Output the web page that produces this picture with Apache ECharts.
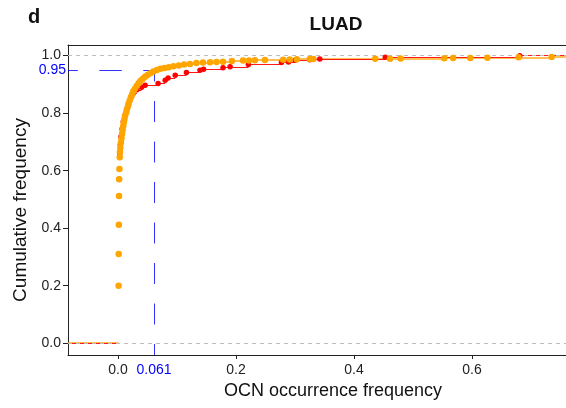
<!DOCTYPE html>
<html><head><meta charset="utf-8">
<script src="https://cdn.jsdelivr.net/npm/echarts@6.0.0/dist/echarts.min.js"></script>
<style>html,body{margin:0;padding:0;background:#fff}#c{width:566px;height:408px}</style>
</head><body><div id="c"></div>
<script>
const PANEL = 'd';
const TITLE = 'LUAD';
const X_NAME = 'OCN occurrence frequency';
const Y_NAME = 'Cumulative frequency';
const X_TICKS = [0, 0.2, 0.4, 0.6];
const Y_TICKS = [0, 0.2, 0.4, 0.6, 0.8, 1.0];
const REF_LINES_Y = [0, 1];
const THRESH_Y = 0.95;
const THRESH_X = 0.061;
const X_RANGE = [-0.0847, 0.7593];
const Y_RANGE = [-0.041, 1.037];

const ORANGE_X = [0.001,0.0012,0.0015,0.0018,0.002,0.0025,0.003,0.0033,0.004,0.005,0.006,0.007,0.008,0.009,0.010,0.011,0.012,0.014,0.015,0.017,0.018,0.020,0.022,0.024,0.026,0.029,0.032,0.035,0.038,0.042,0.046,0.050,0.055,0.060,0.066,0.072,0.079,0.086,0.094,0.103,0.112,0.122,0.133,0.144,0.156,0.167,0.178,0.193,0.212,0.222,0.232,0.249,0.280,0.291,0.303,0.325,0.331,0.436,0.461,0.479,0.553,0.568,0.597,0.626,0.679,0.735];
const ORANGE_Y = [0.200,0.310,0.412,0.512,0.570,0.606,0.647,0.665,0.680,0.698,0.713,0.728,0.742,0.756,0.768,0.780,0.791,0.802,0.813,0.824,0.834,0.845,0.856,0.866,0.876,0.886,0.895,0.904,0.912,0.920,0.927,0.933,0.939,0.945,0.950,0.954,0.957,0.960,0.963,0.966,0.969,0.971,0.974,0.976,0.977,0.978,0.979,0.981,0.983,0.9835,0.984,0.985,0.986,0.987,0.9875,0.988,0.9885,0.989,0.9895,0.990,0.991,0.9915,0.992,0.993,0.994,0.995];

const RED_X = [0.002,0.003,0.004,0.005,0.007,0.009,0.012,0.016,0.018,0.020,0.023,0.026,0.032,0.040,0.046,0.068,0.080,0.085,0.097,0.116,0.139,0.145,0.178,0.190,0.221,0.277,0.289,0.300,0.325,0.342,0.453,0.681];
const RED_Y = [0.570,0.658,0.690,0.718,0.745,0.770,0.794,0.817,0.832,0.846,0.858,0.869,0.881,0.890,0.897,0.903,0.914,0.922,0.932,0.941,0.949,0.953,0.958,0.961,0.969,0.976,0.978,0.984,0.986,0.988,0.994,1.000];

const FONT = 'Liberation Sans, Arial, sans-serif';
const BLUE = '#0000ff';

function stepSegments(xs, ys) {
  const segs = [{ coords: [[X_RANGE[0], 0], [xs[0], 0]] }];
  for (let i = 0; i < xs.length; i++) {
    const xe = i + 1 < xs.length ? xs[i + 1] : X_RANGE[1];
    segs.push({ coords: [[xs[i], ys[i]], [xe, ys[i]]] });
  }
  return segs;
}
function points(xs, ys) { return xs.map((x, i) => [x, ys[i]]); }

const chart = echarts.init(document.getElementById('c'), null, { renderer: 'canvas' });
const hiddenAxis = {
  type: 'value', axisTick: { show: false }, splitLine: { show: false }
};
chart.setOption({
  animation: false,
  backgroundColor: '#fff',
  textStyle: { fontFamily: FONT },
  title: [
    { text: PANEL, left: 23, top: 2, textStyle: { fontFamily: FONT, fontWeight: 'bold', fontSize: 20, color: '#111' } },
    { text: TITLE, left: 331, top: 10, textAlign: 'center', textStyle: { fontFamily: FONT, fontWeight: 'bold', fontSize: 19, color: '#111' } }
  ],
  grid: { left: 68, top: 45, width: 498, height: 310, show: false, containLabel: false },
  xAxis: [
    {
      type: 'value', min: X_RANGE[0], max: X_RANGE[1], position: 'bottom',
      splitLine: { show: false },
      axisLine: { show: true, onZero: false, lineStyle: { color: '#222', width: 1 } },
      name: X_NAME, nameLocation: 'middle', nameGap: 27,
      nameTextStyle: { fontFamily: FONT, fontSize: 18, color: '#111', padding: [0, 0, 0, 32] },
      axisTick: { show: true, length: 4, customValues: X_TICKS, lineStyle: { color: '#222' } },
      axisLabel: { customValues: X_TICKS, formatter: v => v.toFixed(1), fontFamily: FONT, fontSize: 14, color: '#222', margin: 8 }
    },
    Object.assign({}, hiddenAxis, {
      min: X_RANGE[0], max: X_RANGE[1], position: 'bottom',
      axisLine: { show: false, onZero: false },
      axisLabel: { customValues: [THRESH_X], formatter: v => String(v), fontFamily: FONT, fontSize: 14, color: BLUE, margin: 8 }
    }),
    Object.assign({}, hiddenAxis, {
      min: X_RANGE[0], max: X_RANGE[1], position: 'top',
      axisLine: { show: true, onZero: false, lineStyle: { color: '#222', width: 1 } },
      axisLabel: { show: false }
    })
  ],
  yAxis: [
    {
      type: 'value', min: Y_RANGE[0], max: Y_RANGE[1], position: 'left',
      splitLine: { show: false },
      axisLine: { show: true, onZero: false, lineStyle: { color: '#222', width: 1 } },
      name: Y_NAME, nameLocation: 'middle', nameGap: 36, nameRotate: 90,
      nameTextStyle: { fontFamily: FONT, fontSize: 19, color: '#111', padding: [0, 20, 0, 0] },
      axisTick: { show: true, length: 5, customValues: Y_TICKS, lineStyle: { color: '#222' } },
      axisLabel: { customValues: Y_TICKS, formatter: v => v.toFixed(1), fontFamily: FONT, fontSize: 14, color: '#222', margin: 7 }
    },
    Object.assign({}, hiddenAxis, {
      min: Y_RANGE[0], max: Y_RANGE[1], position: 'left',
      axisLine: { show: false, onZero: false },
      axisLabel: { customValues: [THRESH_Y], formatter: v => String(v), fontFamily: FONT, fontSize: 14, color: BLUE, margin: 2 }
    })
  ],
  series: [
    { type: 'lines', coordinateSystem: 'cartesian2d', clip: true, silent: true, polyline: false,
      data: stepSegments(ORANGE_X, ORANGE_Y),
      lineStyle: { color: 'rgba(255,170,30,0.75)', width: 2, opacity: 1 } },
    { type: 'lines', coordinateSystem: 'cartesian2d', clip: true, silent: true, polyline: false,
      data: stepSegments(RED_X, RED_Y),
      lineStyle: { color: '#ff1a1a', width: 1, opacity: 1 } },
    { type: 'scatter', data: points(RED_X, RED_Y), symbol: 'circle', symbolSize: 5.5, clip: true, silent: true,
      itemStyle: { color: '#ff0000', opacity: 1 } },
    { type: 'scatter', data: points(ORANGE_X, ORANGE_Y), symbol: 'circle', symbolSize: 6.5, clip: true, silent: true,
      itemStyle: { color: '#ffa500', opacity: 1 } },
    { type: 'lines', coordinateSystem: 'cartesian2d', clip: true, silent: true, polyline: false,
      data: REF_LINES_Y.map(y => ({ coords: [[X_RANGE[0], y], [X_RANGE[1], y]] })),
      lineStyle: { color: '#bdbdbd', width: 1, type: [4, 4], opacity: 1 } },
    { type: 'lines', coordinateSystem: 'cartesian2d', clip: true, silent: true, polyline: false,
      data: [{ coords: [[X_RANGE[0], THRESH_Y], [THRESH_X, THRESH_Y]] }],
      lineStyle: { color: BLUE, width: 1, type: [22.5, 21.5], dashOffset: 12.7, opacity: 0.8 } },
    { type: 'lines', coordinateSystem: 'cartesian2d', clip: true, silent: true, polyline: false,
      data: [{ coords: [[THRESH_X, THRESH_Y], [THRESH_X, Y_RANGE[0]]] }],
      lineStyle: { color: BLUE, width: 1, type: [21, 19.5], dashOffset: 9.5, opacity: 0.8 } }
  ]
});
</script>
</body></html>
